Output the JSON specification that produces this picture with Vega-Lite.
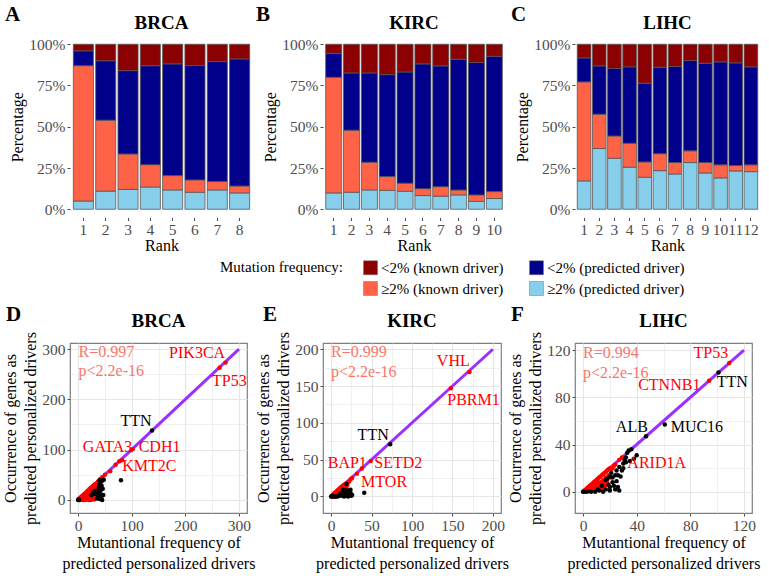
{
  "$schema": "https://vega.github.io/schema/vega-lite/v6.json",
  "padding": {"left": 2, "top": 4, "right": 2, "bottom": 2},
  "config": {
    "font": "Liberation Serif, Times New Roman, serif",
    "view": {"stroke": null},
    "axis": {"labelFont": "Liberation Serif, Times New Roman, serif", "labelFontSize": 15.5, "labelColor": "#4D4D4D", "titleFont": "Liberation Serif, Times New Roman, serif", "titleFontSize": 16, "titleFontWeight": "normal", "titleColor": "#000000", "domain": false, "tickColor": "#4D4D4D", "tickSize": 3, "labelPadding": 2, "titlePadding": 3, "grid": false},
    "axisX": {"titlePadding": 1},
    "title": {"font": "Liberation Serif, Times New Roman, serif", "fontSize": 21, "fontWeight": "bold", "anchor": "start", "frame": "group", "color": "#000000", "offset": -11},
    "text": {"font": "Liberation Serif, Times New Roman, serif"}
  },
  "datasets": {
    "bars": [
      {"p": "BRCA", "rank": 1, "≥2% (predicted driver)": 5, "≥2% (known driver)": 82, "<2% (predicted driver)": 9, "<2% (known driver)": 4},
      {"p": "BRCA", "rank": 2, "≥2% (predicted driver)": 11, "≥2% (known driver)": 43, "<2% (predicted driver)": 36, "<2% (known driver)": 10},
      {"p": "BRCA", "rank": 3, "≥2% (predicted driver)": 12, "≥2% (known driver)": 21.5, "<2% (predicted driver)": 50.5, "<2% (known driver)": 16},
      {"p": "BRCA", "rank": 4, "≥2% (predicted driver)": 13.5, "≥2% (known driver)": 13.5, "<2% (predicted driver)": 60, "<2% (known driver)": 13},
      {"p": "BRCA", "rank": 5, "≥2% (predicted driver)": 11.7, "≥2% (known driver)": 8.7, "<2% (predicted driver)": 67.7, "<2% (known driver)": 11.9},
      {"p": "BRCA", "rank": 6, "≥2% (predicted driver)": 10.3, "≥2% (known driver)": 7.5, "<2% (predicted driver)": 69.3, "<2% (known driver)": 12.9},
      {"p": "BRCA", "rank": 7, "≥2% (predicted driver)": 11.7, "≥2% (known driver)": 5.1, "<2% (predicted driver)": 72.7, "<2% (known driver)": 10.5},
      {"p": "BRCA", "rank": 8, "≥2% (predicted driver)": 9.9, "≥2% (known driver)": 4.2, "<2% (predicted driver)": 77, "<2% (known driver)": 8.9},
      {"p": "KIRC", "rank": 1, "≥2% (predicted driver)": 9.9, "≥2% (known driver)": 70.1, "<2% (predicted driver)": 14.5, "<2% (known driver)": 5.5},
      {"p": "KIRC", "rank": 2, "≥2% (predicted driver)": 10.3, "≥2% (known driver)": 37.6, "<2% (predicted driver)": 34.7, "<2% (known driver)": 17.4},
      {"p": "KIRC", "rank": 3, "≥2% (predicted driver)": 11.7, "≥2% (known driver)": 16.8, "<2% (predicted driver)": 54.1, "<2% (known driver)": 17.4},
      {"p": "KIRC", "rank": 4, "≥2% (predicted driver)": 11.5, "≥2% (known driver)": 8.3, "<2% (predicted driver)": 61.8, "<2% (known driver)": 18.4},
      {"p": "KIRC", "rank": 5, "≥2% (predicted driver)": 10.9, "≥2% (known driver)": 4.9, "<2% (predicted driver)": 67.4, "<2% (known driver)": 16.8},
      {"p": "KIRC", "rank": 6, "≥2% (predicted driver)": 8.3, "≥2% (known driver)": 4.2, "<2% (predicted driver)": 75.6, "<2% (known driver)": 11.9},
      {"p": "KIRC", "rank": 7, "≥2% (predicted driver)": 7.9, "≥2% (known driver)": 5.8, "<2% (predicted driver)": 73.2, "<2% (known driver)": 13.1},
      {"p": "KIRC", "rank": 8, "≥2% (predicted driver)": 8.7, "≥2% (known driver)": 3.0, "<2% (predicted driver)": 79.2, "<2% (known driver)": 9.1},
      {"p": "KIRC", "rank": 9, "≥2% (predicted driver)": 4.8, "≥2% (known driver)": 3.9, "<2% (predicted driver)": 80.2, "<2% (known driver)": 11.1},
      {"p": "KIRC", "rank": 10, "≥2% (predicted driver)": 6.5, "≥2% (known driver)": 4.2, "<2% (predicted driver)": 82, "<2% (known driver)": 7.3},
      {"p": "LIHC", "rank": 1, "≥2% (predicted driver)": 17.2, "≥2% (known driver)": 60, "<2% (predicted driver)": 14.5, "<2% (known driver)": 8.3},
      {"p": "LIHC", "rank": 2, "≥2% (predicted driver)": 36.8, "≥2% (known driver)": 20.8, "<2% (predicted driver)": 29.3, "<2% (known driver)": 13.1},
      {"p": "LIHC", "rank": 3, "≥2% (predicted driver)": 30.9, "≥2% (known driver)": 13.5, "<2% (predicted driver)": 40.9, "<2% (known driver)": 14.7},
      {"p": "LIHC", "rank": 4, "≥2% (predicted driver)": 25.5, "≥2% (known driver)": 14.5, "<2% (predicted driver)": 46.3, "<2% (known driver)": 13.7},
      {"p": "LIHC", "rank": 5, "≥2% (predicted driver)": 19.4, "≥2% (known driver)": 9.3, "<2% (predicted driver)": 47.7, "<2% (known driver)": 23.6},
      {"p": "LIHC", "rank": 6, "≥2% (predicted driver)": 23.4, "≥2% (known driver)": 10.3, "<2% (predicted driver)": 52.4, "<2% (known driver)": 13.9},
      {"p": "LIHC", "rank": 7, "≥2% (predicted driver)": 21.4, "≥2% (known driver)": 6.9, "<2% (predicted driver)": 58.2, "<2% (known driver)": 13.5},
      {"p": "LIHC", "rank": 8, "≥2% (predicted driver)": 28.3, "≥2% (known driver)": 7.1, "<2% (predicted driver)": 54.7, "<2% (known driver)": 9.9},
      {"p": "LIHC", "rank": 9, "≥2% (predicted driver)": 22, "≥2% (known driver)": 6.3, "<2% (predicted driver)": 60.2, "<2% (known driver)": 11.5},
      {"p": "LIHC", "rank": 10, "≥2% (predicted driver)": 19, "≥2% (known driver)": 7.9, "<2% (predicted driver)": 62.4, "<2% (known driver)": 10.7},
      {"p": "LIHC", "rank": 11, "≥2% (predicted driver)": 23.2, "≥2% (known driver)": 3.3, "<2% (predicted driver)": 62.2, "<2% (known driver)": 11.3},
      {"p": "LIHC", "rank": 12, "≥2% (predicted driver)": 22.8, "≥2% (known driver)": 4.1, "<2% (predicted driver)": 59.4, "<2% (known driver)": 13.7}
    ],
    "brca": [
      {"x":1,"y":1,"k":"known"},{"x":2,"y":1,"k":"known"},{"x":2,"y":2,"k":"known"},{"x":3,"y":3,"k":"known"},{"x":4,"y":2,"k":"known"},{"x":4,"y":4,"k":"known"},{"x":5,"y":5,"k":"known"},{"x":6,"y":3,"k":"known"},{"x":6,"y":6,"k":"known"},{"x":7,"y":7,"k":"known"},{"x":8,"y":4,"k":"known"},{"x":8,"y":8,"k":"known"},{"x":9,"y":9,"k":"known"},{"x":10,"y":6,"k":"known"},{"x":10,"y":10,"k":"known"},{"x":11,"y":3,"k":"known"},{"x":12,"y":8,"k":"known"},{"x":12,"y":12,"k":"known"},{"x":13,"y":13,"k":"known"},{"x":14,"y":5,"k":"known"},{"x":14,"y":10,"k":"known"},{"x":15,"y":15,"k":"known"},{"x":16,"y":2,"k":"known"},{"x":16,"y":12,"k":"known"},{"x":17,"y":17,"k":"known"},{"x":18,"y":8,"k":"known"},{"x":18,"y":14,"k":"known"},{"x":19,"y":19,"k":"known"},{"x":20,"y":4,"k":"known"},{"x":20,"y":11,"k":"known"},{"x":20,"y":16,"k":"known"},{"x":21,"y":21,"k":"known"},{"x":22,"y":7,"k":"known"},{"x":22,"y":18,"k":"known"},{"x":23,"y":23,"k":"known"},{"x":24,"y":13,"k":"known"},{"x":24,"y":20,"k":"known"},{"x":25,"y":25,"k":"known"},{"x":26,"y":3,"k":"known"},{"x":26,"y":16,"k":"known"},{"x":27,"y":22,"k":"known"},{"x":28,"y":28,"k":"known"},{"x":29,"y":10,"k":"known"},{"x":30,"y":25,"k":"known"},{"x":31,"y":31,"k":"known"},{"x":32,"y":18,"k":"known"},{"x":33,"y":28,"k":"known"},{"x":35,"y":33,"k":"known"},{"x":12,"y":0,"k":"known"},{"x":18,"y":1,"k":"known"},{"x":24,"y":0,"k":"known"},{"x":8,"y":0,"k":"known"},{"x":5,"y":1,"k":"known"},{"x":15,"y":6,"k":"known"},{"x":28,"y":6,"k":"known"},{"x":3,"y":0,"k":"known"},{"x":5,"y":3,"k":"known"},{"x":7,"y":1,"k":"known"},{"x":9,"y":4,"k":"known"},{"x":11,"y":6,"k":"known"},{"x":13,"y":7,"k":"known"},{"x":15,"y":11,"k":"known"},{"x":17,"y":9,"k":"known"},{"x":19,"y":12,"k":"known"},{"x":21,"y":14,"k":"known"},{"x":23,"y":10,"k":"known"},{"x":25,"y":18,"k":"known"},{"x":27,"y":14,"k":"known"},{"x":29,"y":20,"k":"known"},{"x":31,"y":24,"k":"known"},{"x":33,"y":22,"k":"known"},{"x":35,"y":30,"k":"known"},{"x":37,"y":36,"k":"known"},{"x":39,"y":38,"k":"known"},{"x":41,"y":41,"k":"known"},{"x":36,"y":26,"k":"known"},{"x":38,"y":32,"k":"known"},{"x":20,"y":0,"k":"known"},{"x":30,"y":1,"k":"known"},{"x":34,"y":15,"k":"known"},{"x":10,"y":2,"k":"known"},{"x":14,"y":1,"k":"known"},{"x":22,"y":3,"k":"known"},{"x":27,"y":8,"k":"known"},{"x":45,"y":45,"k":"known"},{"x":50,"y":50,"k":"known"},{"x":60,"y":57,"k":"known"},{"x":70,"y":70,"k":"known"},{"x":77,"y":77,"k":"known"},{"x":82,"y":79,"k":"known"},{"x":99,"y":99,"k":"known"},{"x":102,"y":101,"k":"known"},{"x":264,"y":263,"k":"known"},{"x":275,"y":273,"k":"known"},
      {"x":0,"y":0,"k":"other"},{"x":2,"y":0,"k":"other"},{"x":1,"y":1,"k":"other"},{"x":25,"y":10,"k":"other"},{"x":28,"y":15,"k":"other"},{"x":30,"y":12,"k":"other"},{"x":31,"y":18,"k":"other"},{"x":35,"y":3,"k":"other"},{"x":36,"y":10,"k":"other"},{"x":37,"y":15,"k":"other"},{"x":38,"y":20,"k":"other"},{"x":38,"y":8,"k":"other"},{"x":39,"y":25,"k":"other"},{"x":40,"y":30,"k":"other"},{"x":40,"y":2,"k":"other"},{"x":41,"y":12,"k":"other"},{"x":42,"y":35,"k":"other"},{"x":42,"y":18,"k":"other"},{"x":43,"y":5,"k":"other"},{"x":44,"y":28,"k":"other"},{"x":45,"y":0,"k":"other"},{"x":45,"y":38,"k":"other"},{"x":46,"y":22,"k":"other"},{"x":47,"y":10,"k":"other"},{"x":48,"y":40,"k":"other"},{"x":40,"y":39,"k":"other"},{"x":80,"y":39,"k":"other"},{"x":138,"y":138,"k":"other"}
    ],
    "kirc": [
      {"x":1,"y":1,"k":"known"},{"x":2,"y":2,"k":"known"},{"x":3,"y":1,"k":"known"},{"x":3,"y":3,"k":"known"},{"x":4,"y":4,"k":"known"},{"x":5,"y":2,"k":"known"},{"x":5,"y":5,"k":"known"},{"x":6,"y":6,"k":"known"},{"x":7,"y":3,"k":"known"},{"x":7,"y":7,"k":"known"},{"x":8,"y":8,"k":"known"},{"x":9,"y":5,"k":"known"},{"x":9,"y":9,"k":"known"},{"x":10,"y":10,"k":"known"},{"x":11,"y":7,"k":"known"},{"x":11,"y":11,"k":"known"},{"x":12,"y":12,"k":"known"},{"x":13,"y":9,"k":"known"},{"x":13,"y":13,"k":"known"},{"x":14,"y":14,"k":"known"},{"x":15,"y":11,"k":"known"},{"x":15,"y":15,"k":"known"},{"x":16,"y":16,"k":"known"},{"x":6,"y":1,"k":"known"},{"x":8,"y":3,"k":"known"},{"x":10,"y":4,"k":"known"},{"x":12,"y":6,"k":"known"},{"x":14,"y":8,"k":"known"},{"x":16,"y":12,"k":"known"},{"x":18,"y":14,"k":"known"},{"x":19,"y":18,"k":"known"},{"x":21,"y":19,"k":"known"},{"x":4,"y":0,"k":"known"},{"x":9,"y":1,"k":"known"},{"x":17,"y":10,"k":"known"},{"x":20,"y":15,"k":"known"},{"x":2,"y":0,"k":"known"},{"x":5,"y":0,"k":"known"},{"x":7,"y":5,"k":"known"},{"x":9,"y":7,"k":"known"},{"x":11,"y":9,"k":"known"},{"x":13,"y":11,"k":"known"},{"x":15,"y":13,"k":"known"},{"x":17,"y":15,"k":"known"},{"x":18,"y":17,"k":"known"},{"x":14,"y":3,"k":"known"},{"x":12,"y":4,"k":"known"},{"x":10,"y":2,"k":"known"},{"x":16,"y":6,"k":"known"},{"x":19,"y":10,"k":"known"},{"x":22,"y":20,"k":"known"},{"x":24,"y":23,"k":"known"},{"x":26,"y":25,"k":"known"},{"x":32,"y":31,"k":"known"},{"x":38,"y":38,"k":"known"},{"x":49,"y":48,"k":"known"},{"x":148,"y":147,"k":"known"},{"x":171,"y":169,"k":"known"},
      {"x":0,"y":0,"k":"other"},{"x":1,"y":0,"k":"other"},{"x":2,"y":1,"k":"other"},{"x":3,"y":0,"k":"other"},{"x":6,"y":0,"k":"other"},{"x":8,"y":0,"k":"other"},{"x":10,"y":1,"k":"other"},{"x":12,"y":2,"k":"other"},{"x":14,"y":1,"k":"other"},{"x":15,"y":4,"k":"other"},{"x":16,"y":0,"k":"other"},{"x":17,"y":3,"k":"other"},{"x":18,"y":2,"k":"other"},{"x":18,"y":8,"k":"other"},{"x":19,"y":1,"k":"other"},{"x":20,"y":4,"k":"other"},{"x":21,"y":0,"k":"other"},{"x":22,"y":6,"k":"other"},{"x":23,"y":2,"k":"other"},{"x":24,"y":9,"k":"other"},{"x":25,"y":1,"k":"other"},{"x":13,"y":5,"k":"other"},{"x":11,"y":3,"k":"other"},{"x":19,"y":17,"k":"other"},{"x":20,"y":8,"k":"other"},{"x":22,"y":3,"k":"other"},{"x":24,"y":5,"k":"other"},{"x":26,"y":2,"k":"other"},{"x":15,"y":9,"k":"other"},{"x":41,"y":5,"k":"other"},{"x":73,"y":71,"k":"other"}
    ],
    "lihc": [
      {"x":1,"y":1,"k":"known"},{"x":2,"y":1,"k":"known"},{"x":2,"y":2,"k":"known"},{"x":3,"y":3,"k":"known"},{"x":4,"y":2,"k":"known"},{"x":4,"y":4,"k":"known"},{"x":5,"y":5,"k":"known"},{"x":6,"y":3,"k":"known"},{"x":6,"y":6,"k":"known"},{"x":7,"y":7,"k":"known"},{"x":8,"y":4,"k":"known"},{"x":8,"y":8,"k":"known"},{"x":9,"y":9,"k":"known"},{"x":10,"y":5,"k":"known"},{"x":10,"y":10,"k":"known"},{"x":11,"y":11,"k":"known"},{"x":12,"y":6,"k":"known"},{"x":12,"y":12,"k":"known"},{"x":13,"y":13,"k":"known"},{"x":14,"y":7,"k":"known"},{"x":14,"y":14,"k":"known"},{"x":15,"y":15,"k":"known"},{"x":16,"y":8,"k":"known"},{"x":16,"y":16,"k":"known"},{"x":17,"y":17,"k":"known"},{"x":18,"y":10,"k":"known"},{"x":18,"y":18,"k":"known"},{"x":19,"y":19,"k":"known"},{"x":20,"y":12,"k":"known"},{"x":5,"y":1,"k":"known"},{"x":7,"y":2,"k":"known"},{"x":9,"y":3,"k":"known"},{"x":11,"y":4,"k":"known"},{"x":13,"y":2,"k":"known"},{"x":15,"y":4,"k":"known"},{"x":17,"y":6,"k":"known"},{"x":3,"y":1,"k":"known"},{"x":4,"y":1,"k":"known"},{"x":6,"y":2,"k":"known"},{"x":8,"y":2,"k":"known"},{"x":10,"y":3,"k":"known"},{"x":12,"y":3,"k":"known"},{"x":14,"y":3,"k":"known"},{"x":16,"y":5,"k":"known"},{"x":18,"y":7,"k":"known"},{"x":19,"y":14,"k":"known"},{"x":15,"y":10,"k":"known"},{"x":13,"y":8,"k":"known"},{"x":11,"y":8,"k":"known"},{"x":9,"y":6,"k":"known"},{"x":7,"y":4,"k":"known"},{"x":17,"y":12,"k":"known"},{"x":20,"y":20,"k":"known"},{"x":21,"y":19,"k":"known"},{"x":22,"y":20,"k":"known"},{"x":23,"y":22,"k":"known"},{"x":24,"y":23,"k":"known"},{"x":27,"y":27,"k":"known"},{"x":29,"y":29,"k":"known"},{"x":94,"y":94,"k":"known"},{"x":109,"y":109,"k":"known"},
      {"x":0,"y":0,"k":"other"},{"x":1,"y":0,"k":"other"},{"x":3,"y":0,"k":"other"},{"x":6,"y":0,"k":"other"},{"x":9,"y":0,"k":"other"},{"x":12,"y":1,"k":"other"},{"x":15,"y":0,"k":"other"},{"x":17,"y":2,"k":"other"},{"x":20,"y":4,"k":"other"},{"x":22,"y":8,"k":"other"},{"x":17,"y":10,"k":"other"},{"x":24,"y":14,"k":"other"},{"x":26,"y":14,"k":"other"},{"x":25,"y":18,"k":"other"},{"x":27,"y":21,"k":"other"},{"x":30,"y":24,"k":"other"},{"x":32,"y":25,"k":"other"},{"x":27,"y":1,"k":"other"},{"x":19,"y":6,"k":"other"},{"x":22,"y":12,"k":"other"},{"x":21,"y":16,"k":"other"},{"x":18,"y":11,"k":"other"},{"x":20,"y":13,"k":"other"},{"x":23,"y":5,"k":"other"},{"x":25,"y":9,"k":"other"},{"x":26,"y":4,"k":"other"},{"x":28,"y":13,"k":"other"},{"x":29,"y":18,"k":"other"},{"x":30,"y":20,"k":"other"},{"x":31,"y":27,"k":"other"},{"x":35,"y":26,"k":"other"},{"x":38,"y":28,"k":"other"},{"x":20,"y":1,"k":"other"},{"x":24,"y":2,"k":"other"},{"x":32,"y":29,"k":"other"},{"x":33,"y":33,"k":"other"},{"x":34,"y":35,"k":"other"},{"x":36,"y":36,"k":"other"},{"x":40,"y":31,"k":"other"},{"x":47,"y":47,"k":"other"},{"x":61,"y":57,"k":"other"},{"x":101,"y":101,"k":"other"},{"x":14,"y":5,"k":"other"},{"x":11,"y":2,"k":"other"}
    ],
    "labels": [
      {"p":"BRCA","g":"PIK3CA","x":222,"y":292,"k":"known"},
      {"p":"BRCA","g":"TP53","x":282,"y":237,"k":"known"},
      {"p":"BRCA","g":"TTN","x":108,"y":156,"k":"other"},
      {"p":"BRCA","g":"GATA3","x":55,"y":105,"k":"known"},
      {"p":"BRCA","g":"CDH1","x":152,"y":105,"k":"known"},
      {"p":"BRCA","g":"KMT2C","x":133,"y":67,"k":"known"},
      {"p":"KIRC","g":"VHL","x":151,"y":184,"k":"known"},
      {"p":"KIRC","g":"PBRM1","x":176,"y":131,"k":"known"},
      {"p":"KIRC","g":"TTN","x":52,"y":83.5,"k":"other"},
      {"p":"KIRC","g":"BAP1","x":20,"y":46,"k":"known"},
      {"p":"KIRC","g":"SETD2","x":83,"y":46,"k":"known"},
      {"p":"KIRC","g":"MTOR","x":65.5,"y":20,"k":"known"},
      {"p":"LIHC","g":"TP53","x":95.3,"y":117.6,"k":"known"},
      {"p":"LIHC","g":"TTN","x":111.3,"y":93.2,"k":"other"},
      {"p":"LIHC","g":"CTNNB1","x":64.3,"y":90.6,"k":"known"},
      {"p":"LIHC","g":"ALB","x":36.4,"y":54.7,"k":"other"},
      {"p":"LIHC","g":"MUC16","x":84.9,"y":54.7,"k":"other"},
      {"p":"LIHC","g":"ARID1A","x":54.9,"y":24.4,"k":"known"}
    ],
    "stats": [
      {"p":"BRCA","t":"R=0.997","x":1,"y":294},
      {"p":"BRCA","t":"p<2.2e-16","x":1,"y":256},
      {"p":"KIRC","t":"R=0.999","x":0,"y":196.4},
      {"p":"KIRC","t":"p<2.2e-16","x":0,"y":169.3},
      {"p":"LIHC","t":"R=0.994","x":0,"y":117.7},
      {"p":"LIHC","t":"p<2.2e-16","x":0,"y":100.9}
    ],
    "heads": [
      {"p":"BRCA","t":"BRCA","x":150,"y":356},
      {"p":"KIRC","t":"KIRC","x":100,"y":239},
      {"p":"LIHC","t":"LIHC","x":60,"y":144.6}
    ],
    "diag": [
      {"p":"BRCA","x":0,"y":0},{"p":"BRCA","x":300,"y":300},
      {"p":"KIRC","x":0,"y":0},{"p":"KIRC","x":200,"y":200},
      {"p":"LIHC","x":0,"y":0},{"p":"LIHC","x":120,"y":120}
    ]
  },
  "columns": 3,
  "bounds": "flush",
  "spacing": {"row": 125, "column": 70},
  "resolve": {"scale": {"color": "independent"}, "legend": {"color": "independent"}},
  "concat": [
    {
      "width": 183, "height": 181.5,
      "title": {"text": "A", "dx": -65},
      "layer": [
        {
          "data": {"name": "bars"},
          "transform": [{"filter": "datum.p == 'BRCA'"}, {"fold": ["≥2% (predicted driver)", "≥2% (known driver)", "<2% (predicted driver)", "<2% (known driver)"], "as": ["cat", "v"]}],
          "mark": {"type": "bar", "stroke": "#555555", "strokeWidth": 0.8},
          "encoding": {
            "x": {"field": "rank", "type": "ordinal", "scale": {"paddingInner": 0.1, "paddingOuter": 0.15}, "axis": {"title": "Rank", "labelAngle": 0, "titlePadding": -1}},
            "y": {"field": "v", "type": "quantitative", "stack": "normalize", "scale": {"domain": [-0.05, 1.05], "nice": false, "zero": false}, "axis": {"title": "Percentage", "values": [0, 0.25, 0.5, 0.75, 1], "format": ".0%"}},
            "color": {"field": "cat", "type": "nominal", "scale": {"domain": ["<2% (known driver)", "<2% (predicted driver)", "≥2% (known driver)", "≥2% (predicted driver)"], "range": ["#8B0000", "#00008B", "#FF6347", "#87CEEB"]}, "legend": null},
            "order": {"field": "cat", "sort": "descending"}
          }
        },
        {
          "data": {"values": [{"t": "BRCA"}]},
          "mark": {"type": "text", "fontWeight": "bold", "fontSize": 19, "baseline": "middle"},
          "encoding": {"text": {"field": "t"}, "y": {"datum": 1.126}}
        }
      ]
    },
    {
      "width": 182, "height": 181.5,
      "title": {"text": "B", "dx": -67},
      "layer": [
        {
          "data": {"name": "bars"},
          "transform": [{"filter": "datum.p == 'KIRC'"}, {"fold": ["≥2% (predicted driver)", "≥2% (known driver)", "<2% (predicted driver)", "<2% (known driver)"], "as": ["cat", "v"]}],
          "mark": {"type": "bar", "stroke": "#555555", "strokeWidth": 0.8},
          "encoding": {
            "x": {"field": "rank", "type": "ordinal", "scale": {"paddingInner": 0.1, "paddingOuter": 0.15}, "axis": {"title": "Rank", "labelAngle": 0, "titlePadding": -1}},
            "y": {"field": "v", "type": "quantitative", "stack": "normalize", "scale": {"domain": [-0.05, 1.05], "nice": false, "zero": false}, "axis": {"title": "Percentage", "values": [0, 0.25, 0.5, 0.75, 1], "format": ".0%"}},
            "color": {"field": "cat", "type": "nominal", "scale": {"domain": ["<2% (known driver)", "<2% (predicted driver)", "≥2% (known driver)", "≥2% (predicted driver)"], "range": ["#8B0000", "#00008B", "#FF6347", "#87CEEB"]},
              "legend": {"orient": "none", "legendX": -103, "legendY": 224, "direction": "horizontal", "columns": 2, "title": "Mutation frequency:", "titleOrient": "left", "titleAnchor": "start", "titleBaseline": "top", "titleFont": "Liberation Serif, Times New Roman, serif", "titleFontSize": 15, "titleFontWeight": "normal", "titleColor": "#000000", "titlePadding": 20, "labelFont": "Liberation Serif, Times New Roman, serif", "labelFontSize": 15, "labelColor": "#000000", "labelOffset": 3, "symbolType": "square", "symbolSize": 196, "symbolStrokeColor": "#777777", "symbolStrokeWidth": 0.5, "symbolOpacity": 1, "columnPadding": 24, "rowPadding": 4}},
            "order": {"field": "cat", "sort": "descending"}
          }
        },
        {
          "data": {"values": [{"t": "KIRC"}]},
          "mark": {"type": "text", "fontWeight": "bold", "fontSize": 19, "baseline": "middle"},
          "encoding": {"text": {"field": "t"}, "y": {"datum": 1.126}}
        }
      ]
    },
    {
      "width": 185, "height": 181.5,
      "title": {"text": "C", "dx": -64},
      "layer": [
        {
          "data": {"name": "bars"},
          "transform": [{"filter": "datum.p == 'LIHC'"}, {"fold": ["≥2% (predicted driver)", "≥2% (known driver)", "<2% (predicted driver)", "<2% (known driver)"], "as": ["cat", "v"]}],
          "mark": {"type": "bar", "stroke": "#555555", "strokeWidth": 0.8},
          "encoding": {
            "x": {"field": "rank", "type": "ordinal", "scale": {"paddingInner": 0.1, "paddingOuter": 0.15}, "axis": {"title": "Rank", "labelAngle": 0, "titlePadding": -1}},
            "y": {"field": "v", "type": "quantitative", "stack": "normalize", "scale": {"domain": [-0.05, 1.05], "nice": false, "zero": false}, "axis": {"title": "Percentage", "values": [0, 0.25, 0.5, 0.75, 1], "format": ".0%"}},
            "color": {"field": "cat", "type": "nominal", "scale": {"domain": ["<2% (known driver)", "<2% (predicted driver)", "≥2% (known driver)", "≥2% (predicted driver)"], "range": ["#8B0000", "#00008B", "#FF6347", "#87CEEB"]}, "legend": null},
            "order": {"field": "cat", "sort": "descending"}
          }
        },
        {
          "data": {"values": [{"t": "LIHC"}]},
          "mark": {"type": "text", "fontWeight": "bold", "fontSize": 19, "baseline": "middle"},
          "encoding": {"text": {"field": "t"}, "y": {"datum": 1.126}}
        }
      ]
    },
    {
      "width": 177, "height": 170,
      "title": {"text": "D", "dx": -64, "offset": -13},
      "view": {"stroke": "#7F7F7F", "strokeWidth": 1.2},
      "encoding": {
        "x": {"field": "x", "type": "quantitative", "scale": {"domain": [-15, 315], "nice": false, "zero": false},
          "axis": {"title": ["Mutantional frequency of", "predicted personalized drivers"], "titleLineHeight": 21, "values": [0, 50, 100, 150, 200, 250, 300], "labelExpr": "datum.value % 100 === 0 ? datum.label : ''", "grid": true, "gridColor": "#E6E6E6", "gridWidth": {"condition": {"test": "datum.value % 100 === 0", "value": 1.2}, "value": 0.6}, "tickSize": {"condition": {"test": "datum.value % 100 === 0", "value": 3}, "value": 0}}},
        "y": {"field": "y", "type": "quantitative", "scale": {"domain": [-26, 312], "nice": false, "zero": false},
          "axis": {"title": ["Occurrence of genes as", "predicted personalized drivers"], "titleLineHeight": 20, "values": [0, 50, 100, 150, 200, 250, 300], "labelExpr": "datum.value % 100 === 0 ? datum.label : ''", "grid": true, "gridColor": "#E6E6E6", "gridWidth": {"condition": {"test": "datum.value % 100 === 0", "value": 1.2}, "value": 0.6}, "tickSize": {"condition": {"test": "datum.value % 100 === 0", "value": 3}, "value": 0}}}
      },
      "layer": [
        {"data": {"name": "diag"}, "transform": [{"filter": "datum.p == 'BRCA'"}], "mark": {"type": "line", "color": "#9B30FF", "strokeWidth": 3}},
        {"data": {"name": "brca"}, "mark": {"type": "circle", "size": 20, "opacity": 1}, "encoding": {"color": {"field": "k", "type": "nominal", "scale": {"domain": ["known", "other"], "range": ["#FF0000", "#000000"]}, "legend": null}}},
        {"data": {"name": "labels"}, "transform": [{"filter": "datum.p == 'BRCA'"}], "mark": {"type": "text", "fontSize": 16, "baseline": "middle"}, "encoding": {"text": {"field": "g"}, "color": {"field": "k", "type": "nominal", "legend": null}}},
        {"data": {"name": "stats"}, "transform": [{"filter": "datum.p == 'BRCA'"}], "mark": {"type": "text", "fontSize": 16, "baseline": "middle", "align": "left", "color": "#F8766D"}, "encoding": {"text": {"field": "t"}}},
        {"data": {"name": "heads"}, "transform": [{"filter": "datum.p == 'BRCA'"}], "mark": {"type": "text", "fontWeight": "bold", "fontSize": 19, "baseline": "middle", "clip": false}, "encoding": {"text": {"field": "t"}}}
      ]
    },
    {
      "width": 178, "height": 170,
      "title": {"text": "E", "dx": -60, "offset": -13},
      "view": {"stroke": "#7F7F7F", "strokeWidth": 1.2},
      "encoding": {
        "x": {"field": "x", "type": "quantitative", "scale": {"domain": [-10, 210], "nice": false, "zero": false},
          "axis": {"title": ["Mutantional frequency of", "predicted personalized drivers"], "titleLineHeight": 21, "values": [0, 25, 50, 75, 100, 125, 150, 175, 200], "labelExpr": "datum.value % 50 === 0 ? datum.label : ''", "grid": true, "gridColor": "#E6E6E6", "gridWidth": {"condition": {"test": "datum.value % 50 === 0", "value": 1.2}, "value": 0.6}, "tickSize": {"condition": {"test": "datum.value % 50 === 0", "value": 3}, "value": 0}}},
        "y": {"field": "y", "type": "quantitative", "scale": {"domain": [-22.5, 208.5], "nice": false, "zero": false},
          "axis": {"title": ["Occurrence of genes as", "predicted personalized drivers"], "titleLineHeight": 20, "values": [0, 25, 50, 75, 100, 125, 150, 175, 200], "labelExpr": "datum.value % 50 === 0 ? datum.label : ''", "grid": true, "gridColor": "#E6E6E6", "gridWidth": {"condition": {"test": "datum.value % 50 === 0", "value": 1.2}, "value": 0.6}, "tickSize": {"condition": {"test": "datum.value % 50 === 0", "value": 3}, "value": 0}}}
      },
      "layer": [
        {"data": {"name": "diag"}, "transform": [{"filter": "datum.p == 'KIRC'"}], "mark": {"type": "line", "color": "#9B30FF", "strokeWidth": 3}},
        {"data": {"name": "kirc"}, "mark": {"type": "circle", "size": 20, "opacity": 1}, "encoding": {"color": {"field": "k", "type": "nominal", "scale": {"domain": ["known", "other"], "range": ["#FF0000", "#000000"]}, "legend": null}}},
        {"data": {"name": "labels"}, "transform": [{"filter": "datum.p == 'KIRC'"}], "mark": {"type": "text", "fontSize": 16, "baseline": "middle"}, "encoding": {"text": {"field": "g"}, "color": {"field": "k", "type": "nominal", "legend": null}}},
        {"data": {"name": "stats"}, "transform": [{"filter": "datum.p == 'KIRC'"}], "mark": {"type": "text", "fontSize": 16, "baseline": "middle", "align": "left", "color": "#F8766D"}, "encoding": {"text": {"field": "t"}}},
        {"data": {"name": "heads"}, "transform": [{"filter": "datum.p == 'KIRC'"}], "mark": {"type": "text", "fontWeight": "bold", "fontSize": 19, "baseline": "middle", "clip": false}, "encoding": {"text": {"field": "t"}}}
      ]
    },
    {
      "width": 177, "height": 170,
      "title": {"text": "F", "dx": -64, "offset": -13},
      "view": {"stroke": "#7F7F7F", "strokeWidth": 1.2},
      "encoding": {
        "x": {"field": "x", "type": "quantitative", "scale": {"domain": [-6, 126], "nice": false, "zero": false},
          "axis": {"title": ["Mutantional frequency of", "predicted personalized drivers"], "titleLineHeight": 21, "values": [0, 20, 40, 60, 80, 100, 120], "labelExpr": "datum.value % 40 === 0 ? datum.label : ''", "grid": true, "gridColor": "#E6E6E6", "gridWidth": {"condition": {"test": "datum.value % 40 === 0", "value": 1.2}, "value": 0.6}, "tickSize": {"condition": {"test": "datum.value % 40 === 0", "value": 3}, "value": 0}}},
        "y": {"field": "y", "type": "quantitative", "scale": {"domain": [-18, 126], "nice": false, "zero": false},
          "axis": {"title": ["Occurrence of genes as", "predicted personalized drivers"], "titleLineHeight": 20, "values": [0, 20, 40, 60, 80, 100, 120], "labelExpr": "datum.value % 40 === 0 ? datum.label : ''", "grid": true, "gridColor": "#E6E6E6", "gridWidth": {"condition": {"test": "datum.value % 40 === 0", "value": 1.2}, "value": 0.6}, "tickSize": {"condition": {"test": "datum.value % 40 === 0", "value": 3}, "value": 0}}}
      },
      "layer": [
        {"data": {"name": "diag"}, "transform": [{"filter": "datum.p == 'LIHC'"}], "mark": {"type": "line", "color": "#9B30FF", "strokeWidth": 3}},
        {"data": {"name": "lihc"}, "mark": {"type": "circle", "size": 20, "opacity": 1}, "encoding": {"color": {"field": "k", "type": "nominal", "scale": {"domain": ["known", "other"], "range": ["#FF0000", "#000000"]}, "legend": null}}},
        {"data": {"name": "labels"}, "transform": [{"filter": "datum.p == 'LIHC'"}], "mark": {"type": "text", "fontSize": 16, "baseline": "middle"}, "encoding": {"text": {"field": "g"}, "color": {"field": "k", "type": "nominal", "legend": null}}},
        {"data": {"name": "stats"}, "transform": [{"filter": "datum.p == 'LIHC'"}], "mark": {"type": "text", "fontSize": 16, "baseline": "middle", "align": "left", "color": "#F8766D"}, "encoding": {"text": {"field": "t"}}},
        {"data": {"name": "heads"}, "transform": [{"filter": "datum.p == 'LIHC'"}], "mark": {"type": "text", "fontWeight": "bold", "fontSize": 19, "baseline": "middle", "clip": false}, "encoding": {"text": {"field": "t"}}}
      ]
    }
  ]
}
